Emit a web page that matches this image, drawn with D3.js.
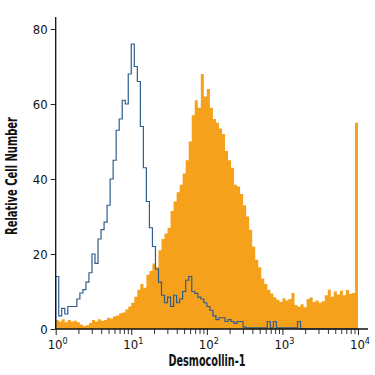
<!DOCTYPE html>
<html>
<head>
<meta charset="utf-8">
<script src="https://cdn.jsdelivr.net/npm/d3@7"></script>
<style>
  html, body { margin: 0; padding: 0; background: #fff; }
  svg { display: block; }
  text { font-family: "DejaVu Sans", "Liberation Sans", sans-serif; font-stretch: condensed; fill: #111; }
</style>
</head>
<body>
<svg id="chart" width="375" height="375"></svg>
<script>
// ---- data ----
// histogram bins: 25 bins per decade, 4 decades (10^0 .. 10^4)
const binsPerDecade = 25;
const xTickExponents = [0, 1, 2, 3, 4];
const yTicks = [0, 20, 40, 60, 80];
const xTitle = "Desmocollin-1";
const yTitle = "Relative Cell Number";

// Desmocollin-1 stained cells (orange, filled)
const stained = [
  2.4, 2.0, 2.6, 1.8, 2.4, 2.0, 2.2, 1.8, 1.2, 0.8,
  1.0, 1.6, 2.4, 2.0, 2.6, 2.2, 2.4, 3.0, 2.8, 3.4,
  3.6, 4.2, 4.4, 5.2, 6.0, 7.0, 8.6, 10.5, 12.0, 11.0,
  14.5, 15.5, 17.5, 16.5, 21.0, 24.0, 25.5, 27.0, 31.5, 34.0,
  36.5, 38.5, 41.5, 45.0, 50.0, 57.0, 61.0, 59.0, 68.0, 62.0,
  64.0, 59.0, 56.0, 55.0, 53.5, 52.0, 47.5, 45.0, 43.0, 38.5,
  38.0, 36.0, 33.0, 30.0, 26.5, 22.0, 18.5, 16.5, 13.5, 12.0,
  10.5, 9.5, 8.5, 7.8, 7.2, 8.2, 7.6, 8.0, 9.6, 6.4,
  6.0, 6.6, 5.8, 8.0, 8.4, 7.2, 7.6, 7.0, 7.4, 9.0,
  10.5, 8.6, 10.0, 9.2, 10.2, 9.0, 10.4, 9.4, 9.6, 55.0
];

// isotype control (blue outline)
const control = [
  14.0, 3.5, 5.5, 4.0, 6.0, 6.0, 6.0, 8.0, 9.6, 10.5,
  12.5, 15.0, 20.0, 17.5, 24.0, 26.5, 28.5, 33.0, 40.0, 45.0,
  53.0, 56.0, 61.0, 60.0, 68.0, 76.0, 70.0, 66.0, 54.0, 43.0,
  34.0, 27.0, 22.0, 16.0, 12.5, 9.0, 7.0, 8.5, 6.0, 9.0,
  7.0, 8.0, 10.0, 13.0, 14.0, 10.0, 9.5, 8.5, 8.0, 7.0,
  6.0, 5.0, 3.5, 2.5, 3.0, 3.0, 2.0, 2.5, 2.0, 1.5,
  2.0, 2.0, 0.5, 0.3, 0.3, 0.3, 0.3, 0.3, 0.3, 0.3,
  2.0, 0.3, 2.0, 0.3, 0.3, 0.3, 0.3, 0.3, 0.3, 0.3,
  2.0, 0, 0, 0, 0, 0, 0, 0, 0, 0,
  0, 0, 0, 0, 0, 0, 0, 0, 0, 0
];

const orange = "#f6a11c";
const blue = "#2e5d8c";

// ---- layout ----
const svg = d3.select("#chart");
const x0 = 55.7, x1 = 358, y0 = 329, y80 = 29;
const x = d3.scaleLog().domain([1, 1e4]).range([x0, x1]);
const y = d3.scaleLinear().domain([0, 80]).range([y0, y80]);

function stepPoints(vals) {
  const pts = vals.map((v, i) => [Math.pow(10, i / binsPerDecade), v]);
  pts.push([Math.pow(10, vals.length / binsPerDecade), vals[vals.length - 1]]);
  return pts;
}

// filled orange histogram
const area = d3.area()
  .x(d => x(d[0])).y0(y(0)).y1(d => y(d[1]))
  .curve(d3.curveStepAfter);
svg.append("path")
  .datum(stepPoints(stained))
  .attr("d", area)
  .attr("fill", orange);

// blue outline histogram
const line = d3.line()
  .x(d => x(d[0])).y(d => y(d[1]))
  .curve(d3.curveStepAfter);
svg.append("path")
  .datum([[1, 0]].concat(stepPoints(control)))
  .attr("d", line)
  .attr("fill", "none")
  .attr("stroke", blue)
  .attr("stroke-width", 1.2)
  .attr("stroke-linejoin", "miter");

const tickFont = '"DejaVu Sans", "Liberation Sans", sans-serif';

// ---- axes ----
// y axis
const yAxis = d3.axisLeft(y).tickValues(yTicks).tickSize(5).tickPadding(3);
const gy = svg.append("g").attr("transform", `translate(${x0},0)`).call(yAxis);
gy.select(".domain").remove();
gy.selectAll(".tick line").attr("stroke", "#222");
gy.selectAll(".tick text")
  .style("font-family", tickFont).style("font-stretch", "condensed")
  .style("font-size", "13px").attr("fill", "#111");
svg.append("line").attr("x1", x0).attr("x2", x0).attr("y1", 17).attr("y2", y0)
  .attr("stroke", "#111").attr("stroke-width", 1.3);

// x axis: minor ticks
const minorVals = [];
for (let e = 0; e < 4; e++) for (let m = 2; m <= 9; m++) minorVals.push(m * Math.pow(10, e));
const xMinor = d3.axisBottom(x).tickValues(minorVals).tickSize(5).tickFormat("");
const gxm = svg.append("g").attr("transform", `translate(0,${y0})`).call(xMinor);
gxm.select(".domain").remove();
gxm.selectAll(".tick line").attr("stroke", "#333");

// x axis: major ticks
const majorVals = xTickExponents.map(e => Math.pow(10, e));
const xMajor = d3.axisBottom(x).tickValues(majorVals).tickSize(6).tickFormat("");
const gx = svg.append("g").attr("transform", `translate(0,${y0})`).call(xMajor);
gx.select(".domain").remove();
gx.selectAll(".tick line").attr("stroke", "#222");
gx.selectAll(".tick").each(function(d, i) {
  const t = d3.select(this).append("text")
    .attr("y", 20).attr("x", 1.5)
    .attr("text-anchor", "middle")
    .style("font-family", tickFont).style("font-stretch", "condensed")
    .style("font-size", "13px").attr("fill", "#111");
  t.append("tspan").text("10");
  t.append("tspan").attr("dy", -5).style("font-size", "9px").text(xTickExponents[i]);
});
svg.append("line").attr("x1", x0).attr("x2", 368).attr("y1", y0).attr("y2", y0)
  .attr("stroke", "#111").attr("stroke-width", 1.3);

// titles
svg.append("text")
  .attr("x", 207).attr("y", 366)
  .attr("text-anchor", "middle")
  .attr("textLength", 77).attr("lengthAdjust", "spacingAndGlyphs")
  .style("font-size", "15px").style("font-weight", "bold")
  .text(xTitle);
svg.append("text")
  .attr("transform", "translate(17,176) rotate(-90)")
  .attr("text-anchor", "middle")
  .attr("textLength", 118).attr("lengthAdjust", "spacingAndGlyphs")
  .style("font-size", "15px").style("font-weight", "bold")
  .text(yTitle);
</script>
</body>
</html>
